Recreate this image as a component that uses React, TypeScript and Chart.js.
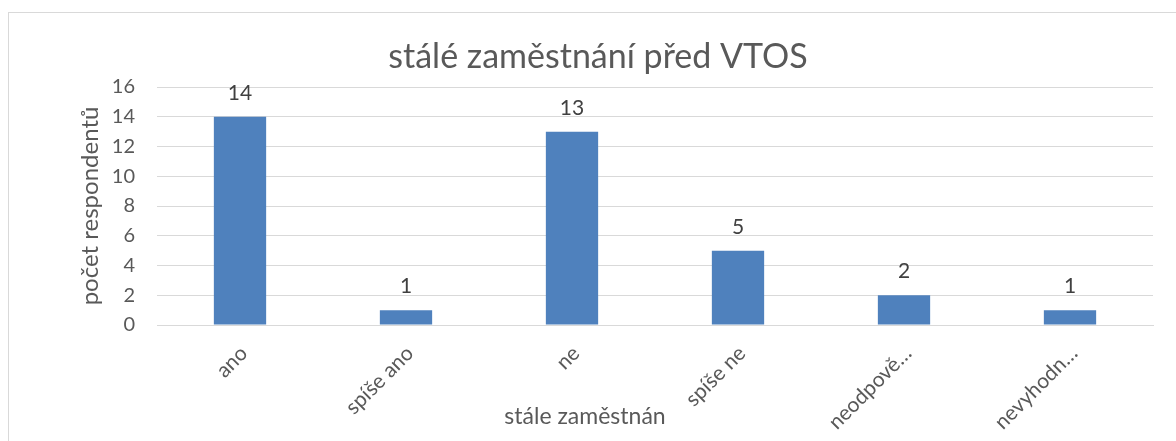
import React, { useEffect, useRef } from "react";
import { Chart, registerables } from "chart.js";

Chart.register(...registerables);

const categories = ["ano", "spíše ano", "ne", "spíše ne", "neodpově…", "nevyhodn…"];
const counts = [14, 1, 13, 5, 2, 1];
const yTicks = [0, 2, 4, 6, 8, 10, 12, 14, 16];
const chartTitle = "stálé zaměstnání před VTOS";
const xTitle = "stále zaměstnán";
const yTitle = "počet respondentů";

const FONT = "Lato, 'Open Sans', sans-serif";
const TEXT = "#595959";

const decorPlugin = {
  id: "decor",
  beforeDraw(chart: any) {
    const ctx = chart.ctx;
    ctx.save();
    ctx.fillStyle = "#ffffff";
    ctx.fillRect(0, 0, chart.width, chart.height);
    ctx.strokeStyle = "#d9d9d9";
    ctx.lineWidth = 1;
    ctx.strokeRect(8.5, 12.5, chart.width + 20, chart.height + 20);
    ctx.restore();
  },
  afterDraw(chart: any) {
    const ctx = chart.ctx;
    ctx.save();
    ctx.fillStyle = TEXT;
    ctx.textAlign = "center";
    ctx.textBaseline = "alphabetic";
    ctx.font = `34px ${FONT}`;
    ctx.fillText(chartTitle, 598, 68);
    ctx.font = `23px ${FONT}`;
    ctx.fillText(xTitle, 585, 424);
    ctx.restore();
  },
  afterDatasetsDraw(chart: any) {
    const ctx = chart.ctx;
    const meta = chart.getDatasetMeta(0);
    ctx.save();
    ctx.fillStyle = "#404040";
    ctx.font = `21px ${FONT}`;
    ctx.textAlign = "center";
    ctx.textBaseline = "alphabetic";
    meta.data.forEach((bar: any, i: number) => {
      ctx.fillText(String(counts[i]), bar.x, bar.y - 17);
    });
    ctx.restore();
  },
};

export default function App() {
  const ref = useRef<HTMLCanvasElement | null>(null);
  useEffect(() => {
    if (!ref.current) return;
    const chart = new Chart(ref.current, {
      type: "bar",
      data: {
        labels: categories,
        datasets: [
          {
            data: counts,
            backgroundColor: "#4f81bd",
            borderWidth: 0,
            categoryPercentage: 1,
            barPercentage: 0.315,
          },
        ],
      },
      options: {
        animation: false,
        responsive: false,
        layout: { padding: { left: 0, right: 23, top: 87, bottom: 0 } },
        plugins: {
          legend: { display: false },
          title: { display: false },
          tooltip: { enabled: false },
        },
        scales: {
          x: {
            grid: { display: false, drawTicks: false },
            border: { display: true, color: "#d9d9d9", width: 1 },
            ticks: {
              color: TEXT,
              font: { family: FONT, size: 21 },
              minRotation: 45,
              maxRotation: 45,
              padding: 16,
              labelOffset: 4,
              autoSkip: false,
            },
            afterFit(scale: any) {
              scale.height = 116;
            },
          },
          y: {
            min: 0,
            max: 16,
            afterBuildTicks(scale: any) {
              scale.ticks = yTicks.map((v) => ({ value: v }));
            },
            grid: { color: "#d9d9d9", lineWidth: 1, drawTicks: false },
            border: { display: false },
            ticks: {
              color: TEXT,
              font: { family: FONT, size: 20 },
              padding: 22,
            },
            title: {
              display: true,
              text: yTitle,
              color: TEXT,
              font: { family: FONT, size: 24 },
              padding: { top: 76, bottom: 0 },
            },
            afterFit(scale: any) {
              scale.width = 157;
            },
          },
        },
      },
      plugins: [decorPlugin],
    });
    return () => chart.destroy();
  }, []);
  return (
    <div style={{ position: "fixed", left: 0, top: 0, width: 1176, height: 441 }}>
      <canvas ref={ref} width={1176} height={441} style={{ display: "block" }} />
    </div>
  );
}
